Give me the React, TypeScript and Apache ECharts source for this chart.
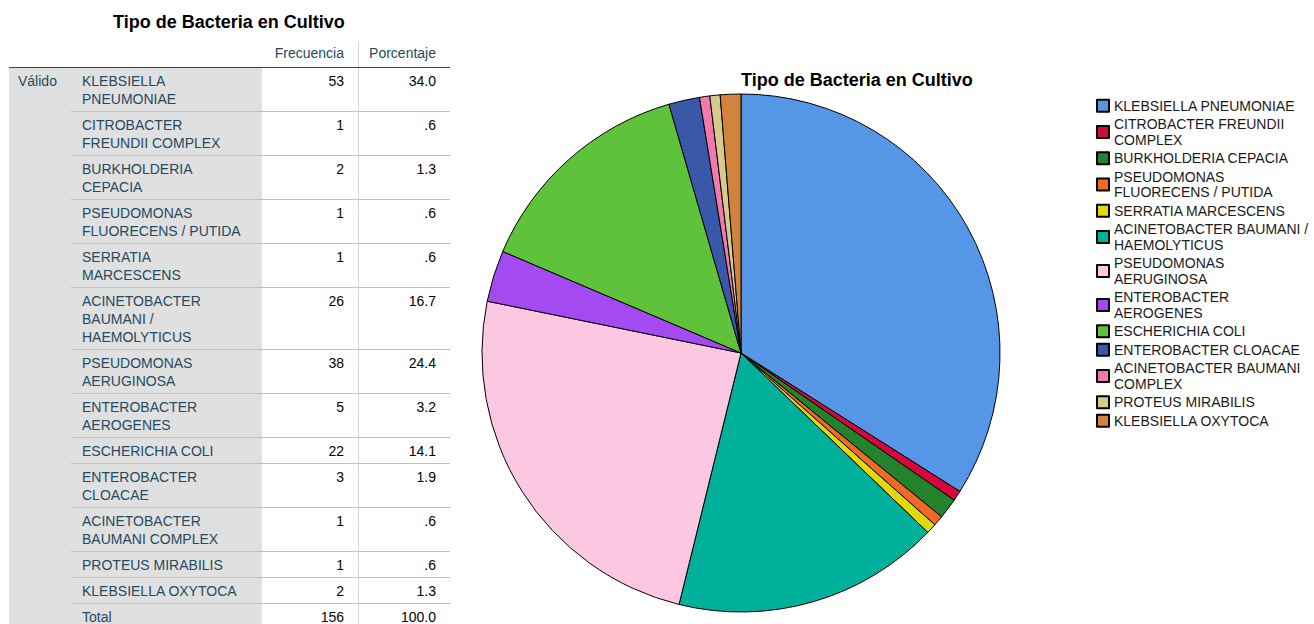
import React, { useEffect, useRef } from 'react';
import * as echarts from 'echarts';

const chartTitle = 'Tipo de Bacteria en Cultivo';
const categories = [
  'KLEBSIELLA PNEUMONIAE',
  'CITROBACTER FREUNDII COMPLEX',
  'BURKHOLDERIA CEPACIA',
  'PSEUDOMONAS FLUORECENS / PUTIDA',
  'SERRATIA MARCESCENS',
  'ACINETOBACTER BAUMANI / HAEMOLYTICUS',
  'PSEUDOMONAS AERUGINOSA',
  'ENTEROBACTER AEROGENES',
  'ESCHERICHIA COLI',
  'ENTEROBACTER CLOACAE',
  'ACINETOBACTER BAUMANI COMPLEX',
  'PROTEUS MIRABILIS',
  'KLEBSIELLA OXYTOCA',
];
const frequencies = [53, 1, 2, 1, 1, 26, 38, 5, 22, 3, 1, 1, 2];
const percentages = ['34.0', '.6', '1.3', '.6', '.6', '16.7', '24.4', '3.2', '14.1', '1.9', '.6', '.6', '1.3'];
const tableLabels = [
  ['KLEBSIELLA', 'PNEUMONIAE'],
  ['CITROBACTER', 'FREUNDII COMPLEX'],
  ['BURKHOLDERIA', 'CEPACIA'],
  ['PSEUDOMONAS', 'FLUORECENS / PUTIDA'],
  ['SERRATIA', 'MARCESCENS'],
  ['ACINETOBACTER', 'BAUMANI /', 'HAEMOLYTICUS'],
  ['PSEUDOMONAS', 'AERUGINOSA'],
  ['ENTEROBACTER', 'AEROGENES'],
  ['ESCHERICHIA COLI'],
  ['ENTEROBACTER', 'CLOACAE'],
  ['ACINETOBACTER', 'BAUMANI COMPLEX'],
  ['PROTEUS MIRABILIS'],
  ['KLEBSIELLA OXYTOCA'],
];
const legendLabels = [
  'KLEBSIELLA PNEUMONIAE',
  'CITROBACTER FREUNDII\nCOMPLEX',
  'BURKHOLDERIA CEPACIA',
  'PSEUDOMONAS\nFLUORECENS / PUTIDA',
  'SERRATIA MARCESCENS',
  'ACINETOBACTER BAUMANI /\nHAEMOLYTICUS',
  'PSEUDOMONAS\nAERUGINOSA',
  'ENTEROBACTER\nAEROGENES',
  'ESCHERICHIA COLI',
  'ENTEROBACTER CLOACAE',
  'ACINETOBACTER BAUMANI\nCOMPLEX',
  'PROTEUS MIRABILIS',
  'KLEBSIELLA OXYTOCA',
];
const sliceColors = [
  '#5596e6', '#d6083b', '#23832a', '#f06a27', '#e3d80d', '#00b09b', '#fcc7e1',
  '#a34bf0', '#5ec23a', '#3a58a8', '#f478b0', '#d4cc8d', '#d1843d',
];
const headerLabels = ['Frecuencia', 'Porcentaje'];
const groupLabel = 'Válido';
const totalRow = ['Total', '156', '100.0'];

const FONT = 'Arial, "Liberation Sans", sans-serif';

function buildTable() {
  const els: any[] = [];
  const x0 = 9, x1 = 450, grayRight = 262, sepX = 358.5, labelX = 82;
  const freqRight = 344, pctRight = 436, headerLineY = 67;
  const txt = (text: string, x: number, y: number, align: string, color: string, size = 14) => ({
    type: 'text', x, y, silent: true, z: 3,
    style: { text, fill: color, fontSize: size, fontFamily: FONT, align, verticalAlign: 'middle' },
  });
  els.push({ type: 'rect', silent: true, z: 1, shape: { x: x0, y: headerLineY, width: grayRight - x0, height: 624 - headerLineY }, style: { fill: '#e0e0e0' } });
  els.push({ type: 'line', silent: true, z: 2, shape: { x1: sepX, y1: 42, x2: sepX, y2: 624 }, style: { stroke: '#d4d4d4', lineWidth: 1 } });
  els.push(txt(headerLabels[0], freqRight, 53, 'right', '#264a60'));
  els.push(txt(headerLabels[1], pctRight, 53, 'right', '#264a60'));
  els.push(txt(groupLabel, 18, 81, 'left', '#264a60'));
  let top = headerLineY;
  const rows = tableLabels.map((lines, i) => ({ lines, f: String(frequencies[i]), p: percentages[i] }));
  rows.push({ lines: [totalRow[0]], f: totalRow[1], p: totalRow[2] });
  rows.forEach((r, i) => {
    if (i > 0) {
      els.push({ type: 'line', silent: true, z: 2, shape: { x1: 71, y1: top + 0.5, x2: x1, y2: top + 0.5 }, style: { stroke: '#bcc2c7', lineWidth: 1 } });
    }
    r.lines.forEach((ln, k) => els.push(txt(ln, labelX, top + 14 + 18 * k, 'left', '#264a60')));
    els.push(txt(r.f, freqRight, top + 14, 'right', '#010205'));
    els.push(txt(r.p, pctRight, top + 14, 'right', '#010205'));
    top += 8 + 18 * r.lines.length;
  });
  els.push({ type: 'line', silent: true, z: 2, shape: { x1: x0, y1: headerLineY + 0.5, x2: x1, y2: headerLineY + 0.5 }, style: { stroke: '#3a4650', lineWidth: 1 } });
  return els;
}

export default function App() {
  const ref = useRef<HTMLDivElement>(null);
  useEffect(() => {
    document.body.style.margin = '0';
    const chart = echarts.init(ref.current!, null, { renderer: 'svg' });
    chart.setOption({
      animation: false,
      title: [
        { text: chartTitle, left: 113, top: 13, padding: 0, textStyle: { fontSize: 18, fontWeight: 'bold', color: '#000', fontFamily: FONT } },
        { text: chartTitle, left: 741, top: 71, padding: 0, textStyle: { fontSize: 18, fontWeight: 'bold', color: '#000', fontFamily: FONT } },
      ],
      legend: {
        orient: 'vertical', left: 1096, top: 98, padding: 0, itemGap: 3,
        itemWidth: 12, itemHeight: 12, icon: 'rect', selectedMode: false,
        data: categories,
        formatter: (name: string) => legendLabels[categories.indexOf(name)],
        textStyle: { fontSize: 14, lineHeight: 15.5, color: '#1a1a1a', fontFamily: FONT },
      },
      graphic: buildTable(),
      series: [{
        type: 'pie',
        center: [741, 353],
        radius: 259,
        startAngle: 90,
        clockwise: true,
        avoidLabelOverlap: false,
        label: { show: false },
        labelLine: { show: false },
        emphasis: { disabled: true },
        itemStyle: { borderColor: '#000', borderWidth: 1 },
        data: categories.map((name, i) => ({ name, value: frequencies[i], itemStyle: { color: sliceColors[i] } })),
      }],
    });
    return () => chart.dispose();
  }, []);
  return <div ref={ref} style={{ width: 1314, height: 624 }} />;
}
